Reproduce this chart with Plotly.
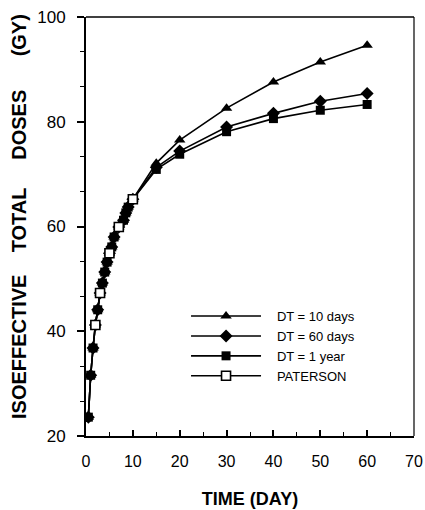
import plotly.graph_objects as go

# ---- data ----
early_days = [0.5, 1, 1.5, 2, 2.5, 3, 3.5, 4, 4.5, 5, 5.5, 6, 7, 8, 8.5, 9, 10]
early_dose = [23.6, 31.6, 36.8, 41.2, 44.1, 47.3, 49.2, 51.3, 53.2, 54.9, 56.1, 58.0, 59.9, 61.2, 62.6, 63.7, 65.2]

late_days = [15, 20, 30, 40, 50, 60]
dt10_late = [72.1, 76.5, 82.6, 87.6, 91.4, 94.6]
dt60_late = [71.3, 74.4, 79.0, 81.6, 83.9, 85.4]
dt1y_late = [70.9, 73.8, 78.1, 80.6, 82.2, 83.3]

paterson_days = [2, 3, 5, 7, 10]
paterson_dose = [41.2, 47.3, 54.9, 59.9, 65.2]

x_ticks = [0, 10, 20, 30, 40, 50, 60, 70]
y_ticks = [20, 40, 60, 80, 100]

names = ["DT = 10 days", "DT = 60 days", "DT = 1 year", "PATERSON"]

FONT = "Liberation Sans, Arial, Helvetica, sans-serif"
PAD = "\u00a0\u00a0\u00a0"
NB = "\u00a0"

fig = go.Figure()
fig.add_trace(go.Scatter(
    x=early_days + late_days, y=early_dose + dt10_late, name=PAD + names[0],
    mode="lines+markers", line=dict(color="black", width=1.6),
    marker=dict(symbol="triangle-up", size=10, color="black")))
fig.add_trace(go.Scatter(
    x=early_days + late_days, y=early_dose + dt60_late, name=PAD + names[1],
    mode="lines+markers", line=dict(color="black", width=1.6),
    marker=dict(symbol="diamond", size=10, color="black")))
fig.add_trace(go.Scatter(
    x=early_days + late_days, y=early_dose + dt1y_late, name=PAD + names[2],
    mode="lines+markers", line=dict(color="black", width=1.6),
    marker=dict(symbol="square", size=9, color="black")))
fig.add_trace(go.Scatter(
    x=paterson_days, y=paterson_dose, name=PAD + names[3],
    mode="lines+markers", line=dict(color="black", width=1.6),
    marker=dict(symbol="square", size=9, color="white",
                line=dict(color="black", width=1.6))))

ytitle = "ISOEFFECTIVE" + NB * 4 + "TOTAL" + NB * 5 + "DOSES" + NB * 6 + "(GY)"

fig.update_layout(
    width=425, height=510,
    margin=dict(l=86, r=11, t=17, b=74),
    paper_bgcolor="white", plot_bgcolor="white",
    font=dict(family=FONT, color="black", size=16),
    showlegend=True,
    legend=dict(x=0.305, y=0.322, xanchor="left", yanchor="top",
                bgcolor="rgba(0,0,0,0)", font=dict(size=13),
                itemwidth=70, tracegroupgap=0),
    xaxis=dict(range=[0, 70], tickvals=x_ticks, ticktext=[str(v) for v in x_ticks],
               automargin=False,
               showgrid=False, zeroline=False, showline=True, linecolor="black",
               linewidth=2, ticks="inside", ticklen=6, tickwidth=1.5, tickcolor="black",
               minor=dict(dtick=5, ticks="inside", ticklen=4, tickwidth=1.2, tickcolor="black"),
               tickfont=dict(size=16), ticklabelstandoff=10,
               title=dict(text="TIME (DAY)", font=dict(size=18, weight="bold"), standoff=23)),
    yaxis=dict(range=[20, 100], tickvals=y_ticks, ticktext=[str(v) for v in y_ticks],
               automargin=False,
               showgrid=False, zeroline=False, showline=True, linecolor="black",
               linewidth=2, ticks="outside", ticklen=7, tickwidth=1.5, tickcolor="black",
               minor=dict(dtick=20 / 3, tick0=20, ticks="outside", ticklen=4, tickwidth=1.2, tickcolor="black"),
               tickfont=dict(size=17), ticklabelstandoff=8),
    annotations=[
        dict(text=ytitle, textangle=-90, showarrow=False,
             xref="paper", yref="paper", x=(19 - 86) / 328, y=(436 - 217) / 419,
             xanchor="center", yanchor="middle",
             font=dict(size=20, weight="bold", family=FONT, color="black")),
    ],
    shapes=[
        dict(type="line", xref="paper", yref="paper", x0=0, x1=1, y0=1, y1=1,
             line=dict(color="black", width=1.5)),
        dict(type="line", xref="paper", yref="paper", x0=1, x1=1, y0=0, y1=1,
             line=dict(color="black", width=1.2)),
    ],
)

fig.write_html("out.html", config={"displayModeBar": False},
               post_script="document.body.style.margin='0';")
